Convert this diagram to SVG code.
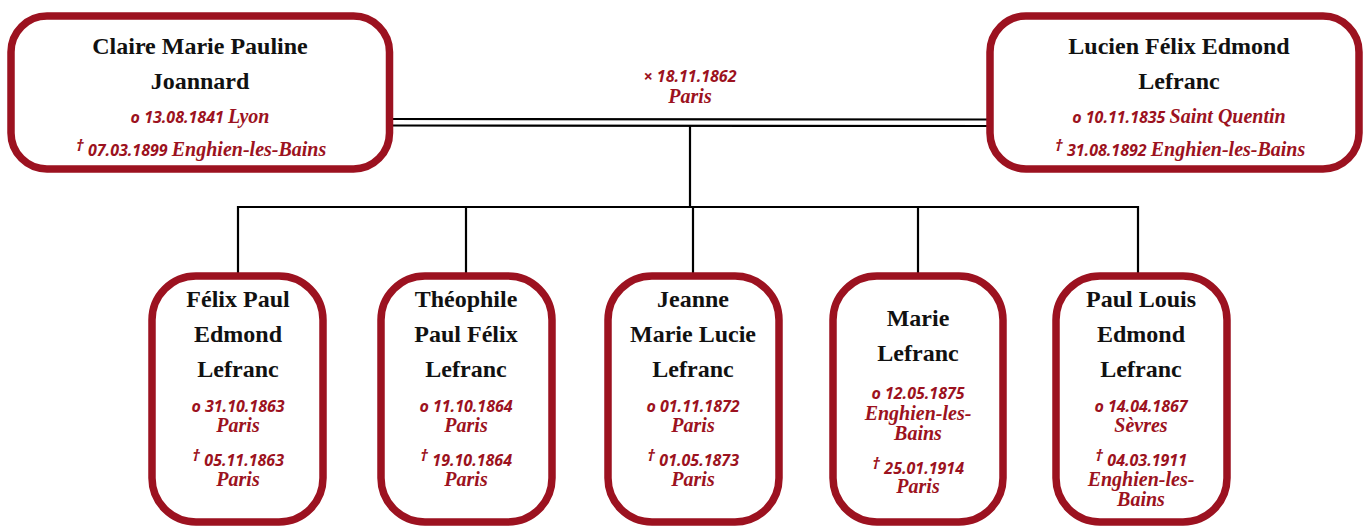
<svg xmlns="http://www.w3.org/2000/svg" width="1363" height="527" viewBox="0 0 1363 527">
<style>
.box{fill:#fff;stroke:#9c1220;stroke-width:7.5}
.ln{stroke:#000;stroke-width:2.2;fill:none}
.nm{font-family:"Liberation Serif","DejaVu Serif",serif;font-weight:bold;font-size:24px;fill:#111;text-anchor:middle}
.dt{font-family:"Open Sans","Lato",sans-serif;font-weight:bold;font-style:italic;font-size:16px;fill:#9c1220;text-anchor:middle}
.pl{font-family:"Liberation Serif","DejaVu Serif",serif;font-weight:bold;font-style:italic;font-size:20px;fill:#9c1220;text-anchor:middle}
</style>
<g id="connectors">
<line class="ln" x1="392" y1="119" x2="988" y2="119.5"/>
<line class="ln" x1="392" y1="125.5" x2="988" y2="126"/>
<line class="ln" x1="690" y1="126" x2="690" y2="207"/>
<polyline class="ln" points="238,273 238,207 1138,207 1138,273"/>
<line class="ln" x1="466" y1="207" x2="466" y2="273"/>
<line class="ln" x1="693" y1="207" x2="693" y2="273"/>
<line class="ln" x1="918" y1="207" x2="918" y2="273"/>
</g>
<g id="marriage">
<text class="dt" x="690" y="82">× 18.11.1862</text>
<text class="pl" x="690" y="103">Paris</text>
</g>
<g id="claire">
<rect class="box" x="11" y="16" width="378.5" height="153" rx="36"/>
<text class="nm" x="200" y="54">Claire Marie Pauline</text>
<text class="nm" x="200" y="89">Joannard</text>
<text class="dt" x="200" y="123">o 13.08.1841 <tspan class="pl">Lyon</tspan></text>
<text class="dt" x="201" y="156"><tspan dy="-5">†</tspan><tspan dy="5"> 07.03.1899 </tspan><tspan class="pl">Enghien-les-Bains</tspan></text>
</g>
<g id="lucien">
<rect class="box" x="990" y="16" width="369" height="153" rx="36"/>
<text class="nm" x="1179" y="54">Lucien Félix Edmond</text>
<text class="nm" x="1179" y="89">Lefranc</text>
<text class="dt" x="1179" y="123">o 10.11.1835 <tspan class="pl">Saint Quentin</tspan></text>
<text class="dt" x="1180" y="156"><tspan dy="-5">†</tspan><tspan dy="5"> 31.08.1892 </tspan><tspan class="pl">Enghien-les-Bains</tspan></text>
</g>
<g id="felix">
<rect class="box" x="152" y="276" width="171" height="246" rx="44"/>
<text class="nm" x="238" y="307">Félix Paul</text>
<text class="nm" x="238" y="342">Edmond</text>
<text class="nm" x="238" y="377">Lefranc</text>
<text class="dt" x="238" y="412">o 31.10.1863</text>
<text class="pl" x="238" y="432">Paris</text>
<text class="dt" x="238" y="466"><tspan dy="-5">†</tspan><tspan dy="5"> 05.11.1863</tspan></text>
<text class="pl" x="238" y="486">Paris</text>
</g>
<g id="theophile">
<rect class="box" x="381" y="276" width="171" height="246" rx="44"/>
<text class="nm" x="466" y="307">Théophile</text>
<text class="nm" x="466" y="342">Paul Félix</text>
<text class="nm" x="466" y="377">Lefranc</text>
<text class="dt" x="466" y="412">o 11.10.1864</text>
<text class="pl" x="466" y="432">Paris</text>
<text class="dt" x="466" y="466"><tspan dy="-5">†</tspan><tspan dy="5"> 19.10.1864</tspan></text>
<text class="pl" x="466" y="486">Paris</text>
</g>
<g id="jeanne">
<rect class="box" x="608" y="276" width="171" height="246" rx="44"/>
<text class="nm" x="693" y="307">Jeanne</text>
<text class="nm" x="693" y="342">Marie Lucie</text>
<text class="nm" x="693" y="377">Lefranc</text>
<text class="dt" x="693" y="412">o 01.11.1872</text>
<text class="pl" x="693" y="432">Paris</text>
<text class="dt" x="693" y="466"><tspan dy="-5">†</tspan><tspan dy="5"> 01.05.1873</tspan></text>
<text class="pl" x="693" y="486">Paris</text>
</g>
<g id="marie">
<rect class="box" x="833" y="276" width="170" height="246" rx="44"/>
<text class="nm" x="918" y="326">Marie</text>
<text class="nm" x="918" y="361">Lefranc</text>
<text class="dt" x="918" y="399">o 12.05.1875</text>
<text class="pl" x="918" y="420">Enghien-les-</text>
<text class="pl" x="918" y="440">Bains</text>
<text class="dt" x="918" y="474"><tspan dy="-5">†</tspan><tspan dy="5"> 25.01.1914</tspan></text>
<text class="pl" x="918" y="493">Paris</text>
</g>
<g id="paul">
<rect class="box" x="1056" y="276" width="171" height="246" rx="44"/>
<text class="nm" x="1141" y="307">Paul Louis</text>
<text class="nm" x="1141" y="342">Edmond</text>
<text class="nm" x="1141" y="377">Lefranc</text>
<text class="dt" x="1141" y="412">o 14.04.1867</text>
<text class="pl" x="1141" y="432">Sèvres</text>
<text class="dt" x="1141" y="466"><tspan dy="-5">†</tspan><tspan dy="5"> 04.03.1911</tspan></text>
<text class="pl" x="1141" y="486">Enghien-les-</text>
<text class="pl" x="1141" y="506">Bains</text>
</g>
</svg>
